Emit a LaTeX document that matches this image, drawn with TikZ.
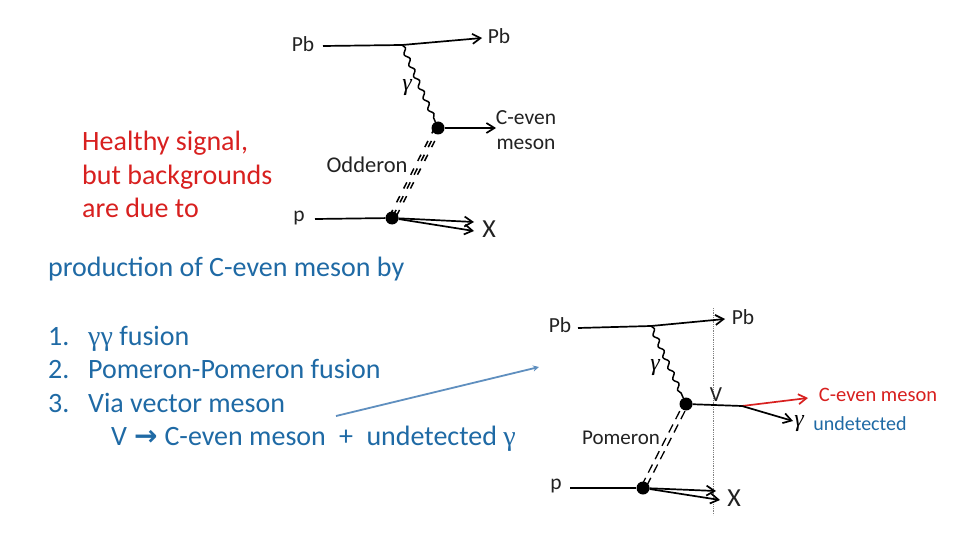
\documentclass[tikz,border=0pt]{standalone}
\usepackage{fontspec}
\setmainfont{Carlito}
\newfontfamily\grk{Liberation Serif}
\usetikzlibrary{arrows.meta,decorations.pathmorphing}
\definecolor{txtblue}{HTML}{1F6AA5}
\definecolor{txtred}{HTML}{D8201F}
\definecolor{arrblue}{HTML}{5F8FBF}
\definecolor{lab}{HTML}{222222}
\tikzset{
 lab/.style={inner sep=0pt,font=\fontsize{21.5}{21.5}\selectfont,text=lab},
 blue text/.style={inner sep=0pt,anchor=base west,font=\fontsize{28}{28}\selectfont,text=txtblue},
 red text/.style={inner sep=0pt,anchor=base west,font=\fontsize{28}{28}\selectfont,text=txtred},
 dotn/.style={circle,fill=black,inner sep=0pt,minimum size=13pt},
 gam/.style={inner sep=0pt,font=\grk\itshape\fontsize{24}{24}\selectfont},
 line/.style={line width=1.7pt,black},
 arr/.style={line,-{Straight Barb[length=8pt,width=10pt]}},
 wav/.style={line width=1.5pt,decorate,decoration={snake,amplitude=2pt,segment length=12pt}},
}
\begin{document}
\begin{tikzpicture}[x=1pt,y=-1pt]
\useasboundingbox[fill=white] (0,0) rectangle (960,540);
% left text
\node[red text] (h1) at (82,151) {Healthy signal,};
\node[red text] (h2) at (82,184) {but backgrounds};
\node[red text] (h3) at (82,217) {are due to};
\node[blue text] (t0) at (48,276) {production of C-even meson by};
\node[blue text] (n1) at (48,345) {1.};
\node[blue text] (t1) at (88,345) {{\grk γγ} fusion};
\node[blue text] (n2) at (48,378) {2.};
\node[blue text] (t2) at (88,378) {Pomeron-Pomeron fusion};
\node[blue text] (n3) at (48,412) {3.};
\node[blue text] (t3) at (88,412) {Via vector meson};
\node[blue text] (t4) at (111,445) {V\hspace{7pt}{\fontspec{DejaVu Sans}\bfseries\fontsize{28}{28}\selectfont →}\hspace{7pt}C-even meson\hspace{7pt} +\hspace{7pt} undetected {\grk γ}};
\coordinate (ba) at (336,416);
\coordinate (bb) at (539,367);
\draw[arrblue,line width=1.8pt,-{Stealth[length=6pt,width=6pt]}] (ba) -- (bb);
% top diagram
\node[lab] (pb1) at (303,44) {Pb};
\node[lab] (pb2) at (499,36) {Pb};
\node[lab] (ce1) at (526,118) {C-even};
\node[lab] (ce2) at (526,144) {meson};
\node[lab,font=\fontsize{22.5}{22.5}\selectfont] (od) at (367,165) {Odderon};
\node[lab] (pp) at (299,218) {p};
\node[lab,font=\fontsize{26}{26}\selectfont] (xx) at (489,229) {X};
\node[gam] (gg) at (407,88) {γ};
\coordinate (a0) at (323,46);
\coordinate (a1) at (402,45);
\coordinate (a2) at (482,38);
\node[dotn] (v1) at (438,128) {};
\node[dotn] (v2) at (392,218) {};
\coordinate (c1) at (496,128);
\coordinate (p0) at (315,219);
\coordinate (x1) at (474,222);
\coordinate (x2) at (474,231);
\draw[line] (a0) -- (a1);
\draw[arr] (a1) -- (a2);
\draw[wav] (a1) -- (v1);
\draw[arr] (v1) -- (c1);
\draw[line] (p0) -- (v2);
\draw[arr] (v2) -- (x1);
\draw[arr] (v2) -- (x2);
\foreach \o in {-3.4,0,3.4}
  \draw[line width=1.5pt,dash pattern=on 7pt off 8.5pt,dash phase=1pt] ([xshift=\o pt]v1.center) -- ([xshift=\o pt]v2.center);
% bottom diagram
\draw[gray,densely dotted,line width=.8pt] (713,308) coordinate (d0) -- (713,515) coordinate (d1);
\node[lab] (pb3) at (560,325) {Pb};
\node[lab] (pb4) at (743,317) {Pb};
\node[lab,font=\fontsize{21}{21}\selectfont] (pom) at (621,438) {Pomeron};
\node[lab] (p2) at (556,486) {p};
\node[lab] (vv) at (716,395) {V};
\node[lab,font=\fontsize{26}{26}\selectfont] (x3) at (734,498) {X};
\node[gam] (g2) at (655,368) {γ};
\node[gam] (g3) at (799,424) {γ};
\node[inner sep=0pt,font=\fontsize{20.5}{20.5}\selectfont,text=txtred] (cm) at (878,395) {C-even meson};
\node[inner sep=0pt,font=\fontsize{20}{20}\selectfont,text=txtblue] (ud) at (860,424) {undetected};
\coordinate (b0) at (578,328);
\coordinate (b1) at (651,326);
\coordinate (b2) at (725,319);
\node[dotn] (w1) at (686,404) {};
\node[dotn] (w2) at (643,488) {};
\coordinate (w3) at (742,406);
\coordinate (w4) at (808,398);
\coordinate (w5) at (793,421);
\coordinate (q0) at (570,488);
\coordinate (y1) at (716,491);
\coordinate (y2) at (720,500);
\draw[line] (b0) -- (b1);
\draw[arr] (b1) -- (b2);
\draw[wav] (b1) -- (w1);
\draw[line] (w1) -- (w3);
\draw[txtred,line width=1.7pt,-{Straight Barb[length=8pt,width=10pt]}] (w3) -- (w4);
\draw[arr] (w3) -- (w5);
\draw[line] (q0) -- (w2);
\draw[arr] (w2) -- (y1);
\draw[arr] (w2) -- (y2);
\foreach \o in {-2.6,2.6}
  \draw[line width=1.3pt,dash pattern=on 9pt off 6pt,dash phase=-8pt] ([xshift=\o pt]w1.center) -- ([xshift=\o pt]w2.center);
\end{tikzpicture}
\end{document}
